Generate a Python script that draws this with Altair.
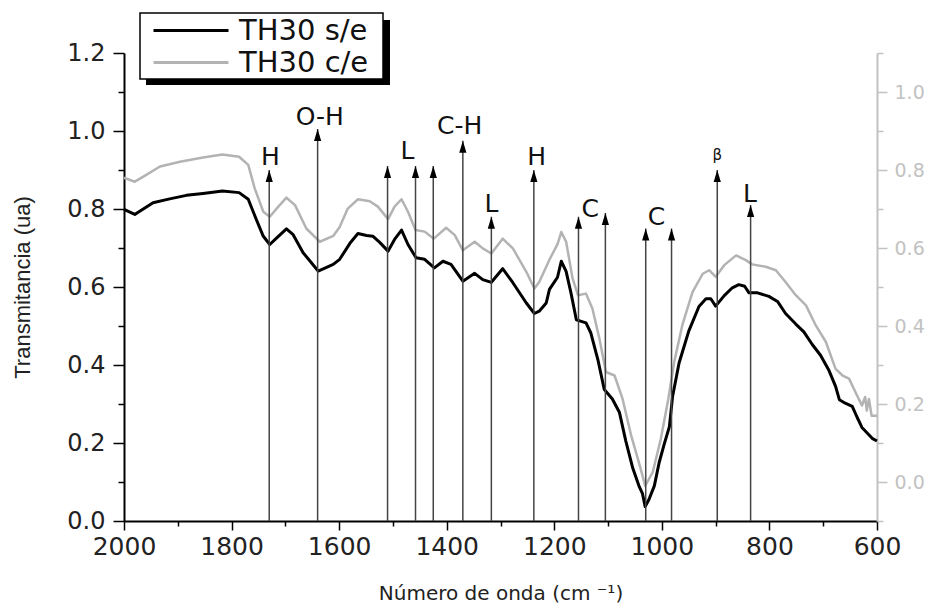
import altair as alt
import pandas as pd

# ---------------- data ----------------
wn_black = [2000, 1980, 1970, 1946, 1915, 1884, 1853, 1817, 1786, 1769, 1754, 1741, 1729, 1716, 1698,
            1686, 1667, 1639, 1611, 1599, 1580, 1565, 1549, 1537, 1525, 1509, 1497, 1484, 1472, 1457,
            1441, 1423, 1407, 1392, 1370, 1348, 1333, 1317, 1296, 1277, 1252, 1237, 1228, 1215, 1209,
            1194, 1187, 1178, 1169, 1159, 1150, 1141, 1132, 1119, 1107, 1092, 1079, 1067, 1054, 1042,
            1036, 1031, 1024, 1014, 1005, 996, 986, 980, 968, 950, 931, 918, 909, 900, 884,
            869, 857, 846, 838, 822, 801, 785, 770, 751, 736, 720, 705, 690, 677, 670,
            659, 646, 637, 628, 609, 600]
t_black = [0.799, 0.786, 0.795, 0.816, 0.826, 0.835, 0.840, 0.846, 0.842, 0.825, 0.773, 0.730, 0.709, 0.726, 0.749,
           0.735, 0.688, 0.641, 0.658, 0.671, 0.712, 0.737, 0.732, 0.730, 0.715, 0.692, 0.722, 0.746, 0.709, 0.675,
           0.671, 0.649, 0.666, 0.658, 0.615, 0.635, 0.619, 0.612, 0.647, 0.611, 0.559, 0.532, 0.538, 0.559, 0.594,
           0.625, 0.666, 0.640, 0.585, 0.516, 0.512, 0.508, 0.482, 0.414, 0.337, 0.313, 0.279, 0.205, 0.135, 0.088,
           0.070, 0.037, 0.055, 0.090, 0.150, 0.195, 0.242, 0.320, 0.405, 0.487, 0.550, 0.570, 0.570, 0.551, 0.578,
           0.598, 0.606, 0.602, 0.585, 0.585, 0.576, 0.563, 0.532, 0.505, 0.485, 0.452, 0.425, 0.388, 0.345, 0.311,
           0.302, 0.294, 0.266, 0.240, 0.212, 0.205]

wn_gray = [2000, 1980, 1964, 1933, 1896, 1853, 1817, 1786, 1769, 1757, 1741, 1729, 1713, 1698, 1682,
           1661, 1636, 1611, 1599, 1584, 1565, 1543, 1528, 1509, 1497, 1484, 1472, 1458, 1441, 1424,
           1401, 1385, 1370, 1348, 1333, 1317, 1296, 1277, 1252, 1237, 1228, 1209, 1194, 1187, 1178,
           1166, 1156, 1141, 1129, 1116, 1104, 1088, 1073, 1057, 1041, 1031, 1017, 1002, 988, 977,
           962, 943, 924, 912, 900, 884, 862, 844, 832, 807, 788, 770, 751, 732, 714,
           695, 677, 664, 652, 640, 628, 622, 619, 615, 610, 600]
t_gray = [0.780, 0.770, 0.783, 0.809, 0.821, 0.832, 0.840, 0.834, 0.813, 0.753, 0.693, 0.680, 0.706, 0.729, 0.710,
          0.650, 0.616, 0.631, 0.654, 0.701, 0.725, 0.720, 0.706, 0.674, 0.706, 0.725, 0.693, 0.646, 0.642, 0.624,
          0.652, 0.633, 0.594, 0.616, 0.599, 0.586, 0.624, 0.599, 0.539, 0.496, 0.513, 0.570, 0.610, 0.641, 0.616,
          0.522, 0.479, 0.483, 0.444, 0.367, 0.282, 0.273, 0.213, 0.119, 0.042, -0.010, 0.025, 0.110, 0.213, 0.308,
          0.402, 0.487, 0.534, 0.543, 0.526, 0.556, 0.581, 0.569, 0.558, 0.552, 0.543, 0.513, 0.479, 0.453, 0.402,
          0.359, 0.290, 0.273, 0.265, 0.230, 0.196, 0.218, 0.183, 0.213, 0.170, 0.170]

series_names = ["TH30 s/e", "TH30 c/e"]

arrow_wn = [1730, 1640, 1510, 1458, 1425, 1370, 1317, 1238, 1155, 1105, 1030, 982, 897, 835]
arrow_top = [0.90, 1.005, 0.91, 0.91, 0.91, 0.975, 0.78, 0.90, 0.78, 0.79, 0.75, 0.75, 0.90, 0.81]

label_text = ["H", "O-H", "L", "C-H", "L", "H", "C", "C", "β", "L"]
label_wn = [1728, 1636, 1473, 1376, 1317, 1233, 1133, 1010, 897, 836]
label_t = [0.933, 1.035, 0.948, 1.012, 0.812, 0.933, 0.800, 0.779, 0.938, 0.838]

x_major = [2000, 1800, 1600, 1400, 1200, 1000, 800, 600]
x_minor = [1900, 1700, 1500, 1300, 1100, 900, 700]
yl_major = [0.0, 0.2, 0.4, 0.6, 0.8, 1.0, 1.2]
yl_minor = [0.1, 0.3, 0.5, 0.7, 0.9, 1.1]
yr_major = [0.0, 0.2, 0.4, 0.6, 0.8, 1.0]
yr_minor = [-0.1, 0.1, 0.3, 0.5, 0.7, 0.9, 1.1]

# ---------------- tables ----------------
df_black = pd.DataFrame({"wn": wn_black, "t": t_black, "serie": series_names[0]})
df_gray = pd.DataFrame({"wn": wn_gray, "t": t_gray, "serie": series_names[1]})
df_arrow = pd.DataFrame({"wn": arrow_wn, "top": arrow_top})
df_label = pd.DataFrame({"wn": label_wn, "t": label_t, "label": label_text})
df_one = pd.DataFrame({"k": [0]})

FONT = "DejaVu Sans"
xscale = alt.Scale(domain=[600, 2000], reverse=True, nice=False, zero=False)
yleft = alt.Scale(domain=[0, 1.2], nice=False, zero=False)
yright = alt.Scale(domain=[-0.1, 1.1], nice=False, zero=False)
cscale = alt.Scale(domain=series_names, range=["#000000", "#b3b3b3"])
GRAY_AX = "#c2c2c2"

legend = alt.Legend(
    title=None, orient="none", legendX=16, legendY=-40,
    symbolType="M0,0H15", symbolSize=100, symbolStrokeWidth=3, symbolOffset=-4,
    labelFont=FONT, labelFontSize=29, labelColor="#111", labelOffset=71,
    rowPadding=2, padding=3, strokeColor="transparent", fillColor="transparent",
)

# legend frame with its drop shadow (decoration)
shadow = alt.Chart(df_one).mark_rect(color="#000").encode(
    x=alt.value(22), x2=alt.value(266), y=alt.value(-33), y2=alt.value(32)
)
frame = alt.Chart(df_one).mark_rect(fill="#ffffff", stroke="#000", strokeWidth=1.5).encode(
    x=alt.value(16), x2=alt.value(259), y=alt.value(-40), y2=alt.value(26)
)

gray = alt.Chart(df_gray).mark_line(strokeWidth=2.5, strokeJoin="round").encode(
    x=alt.X("wn:Q", scale=xscale, axis=None),
    y=alt.Y("t:Q", scale=yright, axis=alt.Axis(
        orient="right", values=yr_major, format=".1f", title=None, grid=False,
        tickSize=10, tickWidth=1.5, tickColor=GRAY_AX, domainColor=GRAY_AX, domainWidth=2,
        labelFont=FONT, labelFontSize=19, labelColor=GRAY_AX, labelPadding=7)),
    color=alt.Color("serie:N", scale=cscale, legend=legend),
)

black = alt.Chart(df_black).mark_line(strokeWidth=3, strokeJoin="round").encode(
    x=alt.X("wn:Q", scale=xscale, axis=alt.Axis(
        orient="bottom", values=x_major, format="d", title="Número de onda (cm ⁻¹)", grid=False,
        labelFlush=False,
        tickSize=9, tickWidth=1.5, tickColor="#000", domainColor="#000", domainWidth=2,
        labelFont=FONT, labelFontSize=25, labelColor="#222", labelPadding=4,
        titleFont=FONT, titleFontSize=20, titleFontWeight="normal", titleColor="#222", titlePadding=24)),
    y=alt.Y("t:Q", scale=yleft, axis=alt.Axis(
        orient="left", values=yl_major, format=".1f", title="Transmitancia (ua)", grid=False,
        tickSize=11, tickWidth=1.5, tickColor="#000", domainColor="#000", domainWidth=2,
        labelFont=FONT, labelFontSize=24, labelColor="#222", labelPadding=8,
        titleFont="Liberation Sans", titleFontSize=22, titleFontWeight="normal", titleColor="#222",
        titlePadding=32)),
    color=alt.Color("serie:N", scale=cscale, legend=legend),
)

rules = alt.Chart(df_arrow).mark_rule(color="#444", strokeWidth=1.5).encode(
    x=alt.X("wn:Q", scale=xscale, axis=None),
    y=alt.Y("top:Q", scale=yleft, axis=None),
    y2=alt.Y2Datum(0),
)

heads = alt.Chart(df_arrow).mark_point(
    shape="M0,0L0.36,1.2L-0.36,1.2Z", size=400, filled=True, color="#000", opacity=1
).encode(
    x=alt.X("wn:Q", scale=xscale, axis=None),
    y=alt.Y("top:Q", scale=yleft, axis=None),
)

labels = alt.Chart(df_label).mark_text(font=FONT, color="#111", baseline="middle", align="center").encode(
    x=alt.X("wn:Q", scale=xscale, axis=None),
    y=alt.Y("t:Q", scale=yleft, axis=None),
    text="label:N",
    size=alt.condition(alt.datum.label == "β", alt.value(15), alt.value(25)),
)

minor_left = alt.Chart(df_black).mark_point(opacity=0).encode(
    x=alt.X("wn:Q", scale=xscale, axis=None),
    y=alt.Y("t:Q", scale=yleft, axis=alt.Axis(
        orient="left", values=yl_minor, labels=False, domain=False, grid=False, title=None,
        tickSize=6, tickWidth=1.5, tickColor="#000")),
)
minor_right = alt.Chart(df_gray).mark_point(opacity=0).encode(
    x=alt.X("wn:Q", scale=xscale, axis=None),
    y=alt.Y("t:Q", scale=yright, axis=alt.Axis(
        orient="right", values=yr_minor, labels=False, domain=False, grid=False, title=None,
        tickSize=6, tickWidth=1.5, tickColor=GRAY_AX)),
)
minor_bottom = alt.Chart(df_black).mark_point(opacity=0).encode(
    x=alt.X("wn:Q", scale=xscale, axis=alt.Axis(
        orient="bottom", values=x_minor, labels=False, domain=False, grid=False, title=None,
        tickSize=5, tickWidth=1.5, tickColor="#000")),
    y=alt.Y("t:Q", scale=yleft, axis=None),
)

chart = alt.layer(
    shadow, frame, gray, black, rules, heads, labels, minor_left, minor_right, minor_bottom
).resolve_scale(y="independent").resolve_axis(x="independent", y="independent").properties(
    width=753, height=468,
    autosize=alt.AutoSizeParams(type="none"),
    padding={"left": 116, "top": 45, "right": 50, "bottom": 88},
).configure_view(stroke=None)

chart.save("out.html", embed_options={"renderer": "svg", "actions": False})
